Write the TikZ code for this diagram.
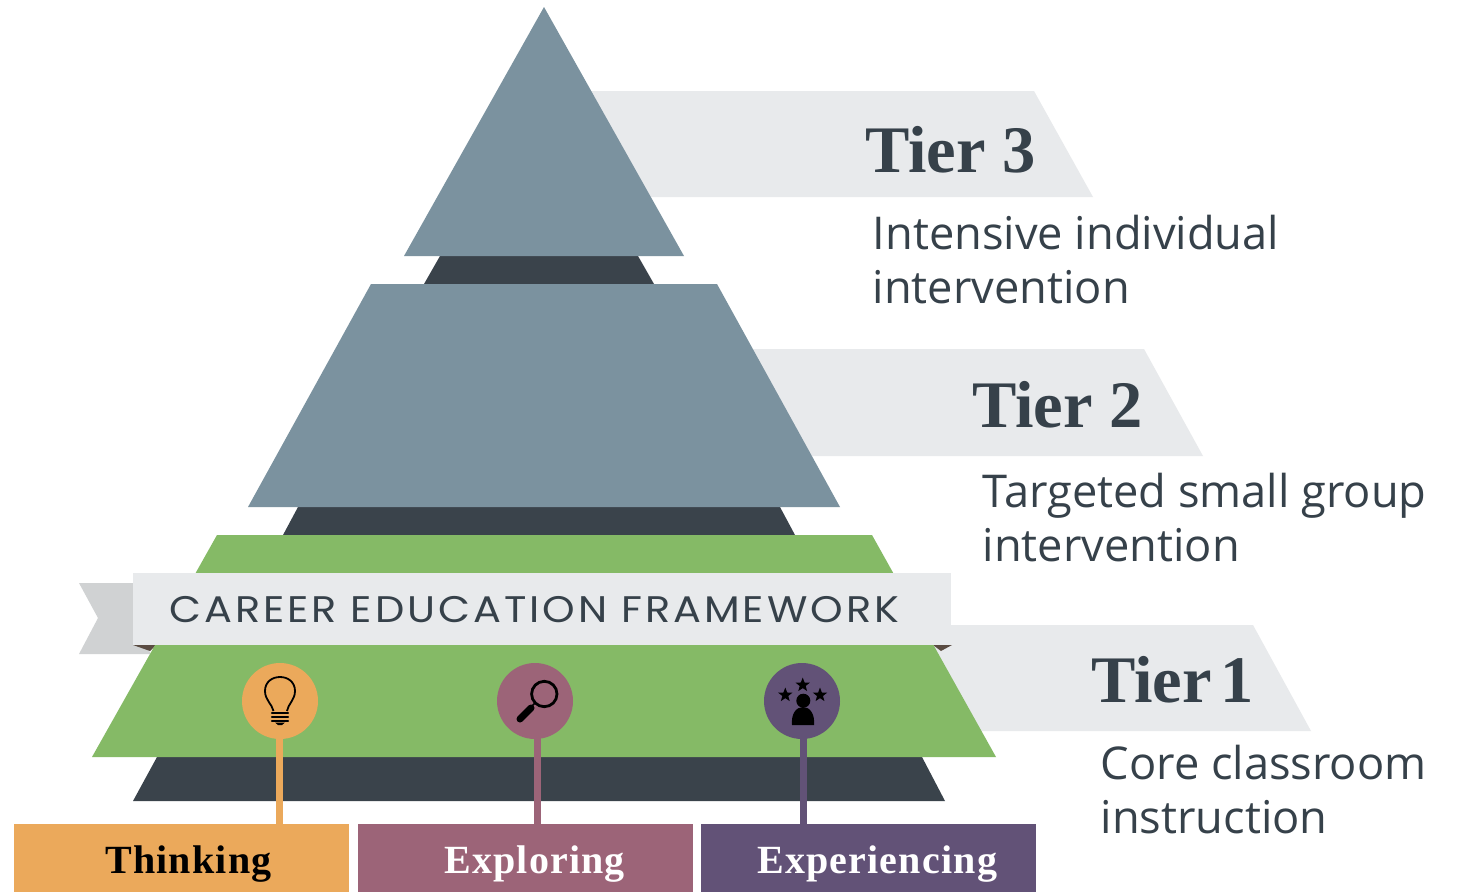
\documentclass[tikz,border=0pt]{standalone}
\usepackage{fontspec}
\usetikzlibrary{shapes.geometric}
\setmainfont{Liberation Serif}
\newfontfamily\bodyfont{Open Sans}
\newfontfamily\banfont[LetterSpace=8,FakeStretch=1.12]{Poppins}
\newfontfamily\catfont[LetterSpace=3]{Liberation Serif}
\definecolor{slate}{HTML}{7B929F}
\definecolor{darkbar}{HTML}{3A434B}
\definecolor{leaf}{HTML}{85BA66}
\definecolor{ribbon}{HTML}{E8EAEC}
\definecolor{tailgrey}{HTML}{D0D2D3}
\definecolor{fold}{HTML}{5A4C42}
\definecolor{ink}{HTML}{36414A}
\definecolor{cthink}{HTML}{EBA95B}
\definecolor{cexplore}{HTML}{9C6478}
\definecolor{cexper}{HTML}{625277}
\tikzset{
  tiertext/.style={anchor=base west,inner sep=0pt,text=ink,font=\fontsize{66.5}{66}\selectfont\bfseries},
  desctext/.style={anchor=base west,inner sep=0pt,text=ink,font=\bodyfont\fontsize{45.2}{54}\selectfont,align=left},
  catbox/.style={draw=none,inner sep=0pt,anchor=north west,minimum height=68pt,minimum width=335pt},
  cattext/.style={anchor=base west,inner sep=0pt,font=\catfont\fontsize{40}{40}\selectfont\bfseries},
  pin/.style={circle,inner sep=0pt,minimum size=76pt},
  stem/.style={line width=7pt},
  starmark/.style={star,star points=5,star point ratio=2.4,fill=black,inner sep=0pt,minimum size=15pt}
}
\begin{document}
\begin{tikzpicture}[x=1pt,y=-1pt]
\useasboundingbox (0,0) rectangle (1458,892);
\fill[white] (0,0) rectangle (1458,892);
% ribbons behind the pyramid
\fill[ribbon] (575,91) -- (1034,91) -- (1093,197) -- (630,197) -- cycle;
\fill[ribbon] (740,349) -- (1144,349) -- (1203,456) -- (795,456) -- cycle;
\fill[ribbon] (930,625) -- (1253,625) -- (1311,731) -- (930,731) -- cycle;
% dark layers
\fill[darkbar] (440,256) -- (638,256) -- (654,284) -- (424,284) -- cycle;
\fill[darkbar] (298,507) -- (780,507) -- (795,535) -- (283,535) -- cycle;
\fill[darkbar] (157,757) -- (922,757) -- (945,801) -- (133,801) -- cycle;
% tiers
\fill[slate] (544,7) -- (684,256) -- (404,256) -- cycle;
\fill[slate] (371,284) -- (717,284) -- (840,507) -- (248,507) -- cycle;
% banner tail and folds
\fill[tailgrey] (79,583) -- (140,583) -- (150,654) -- (79,654) -- (98,618) -- cycle;
\fill[fold] (133,645) -- (156,645) -- (150,651) -- cycle;
\fill[fold] (933,645) -- (952,645) -- (941,651) -- cycle;
\fill[leaf] (217,535) -- (872,535) -- (996,757) -- (92,757) -- cycle;
% banner
\node[fill=ribbon,inner sep=0pt,anchor=north west,minimum width=818pt,minimum height=72pt] (banner) at (133,573) {};
\node[anchor=base west,inner sep=0pt,text=ink,font=\banfont\fontsize{37}{37}\selectfont] (bantext) at (169,622.5) {CAREER EDUCATION FRAMEWORK};
% boxes
\node[catbox,fill=cthink] (bthink) at (14,824) {};
\node[catbox,fill=cexplore] (bexplore) at (358,824) {};
\node[catbox,fill=cexper] (bexper) at (701,824) {};
\node[cattext,text=black] (lthink) at (105,873) {Thinking};
\node[cattext,text=white] (lexplore) at (444,873) {Exploring};
\node[cattext,text=white] (lexper) at (757,873) {Experiencing};
% pins
\coordinate (sthink) at (279,720);
\coordinate (sexplore) at (537,720);
\coordinate (sexper) at (803,720);
\draw[stem,cthink] (sthink) -- (sthink |- bthink.north);
\draw[stem,cexplore] (sexplore) -- (sexplore |- bexplore.north);
\draw[stem,cexper] (sexper) -- (sexper |- bexper.north);
\node[pin,fill=cthink] (pthink) at (280,701) {};
\node[pin,fill=cexplore] (pexplore) at (535,701) {};
\node[pin,fill=cexper] (pexper) at (802,701) {};
% bulb
\draw[black,line width=1.8pt] (273.5,711) .. controls (272,704) and (265,700) .. (265,691) .. controls (265,682) and (272,677) .. (280,677) .. controls (288,677) and (295,682) .. (295,691) .. controls (295,700) and (288,704) .. (287,711);
\draw[black,line width=2.2pt,line cap=round] (272,713) -- (288,713);
\draw[black,line width=2.2pt,line cap=round] (272,717) -- (288,717);
\draw[black,line width=2.2pt,line cap=round] (272,721) -- (288,721);
\fill[black] (275,722.5) -- (285,722.5) -- (282,725) -- (278,725) -- cycle;
% magnifier
\draw[black,line width=2.8pt] (544.3,694) circle (12.7);
\draw[black,line width=1.5pt] (535,703) -- (531,707);
\draw[black,line width=7pt,line cap=round] (531,708) -- (520,719);
% person
\fill[black] (803.3,700.7) circle (7);
\fill[black] (792,725) .. controls (791,714) and (796,707) .. (803,707) .. controls (810,707) and (815,714) .. (814,725) -- cycle;
\node[starmark] (s1) at (802.7,685) {};
\node[starmark] (s2) at (785.3,695) {};
\node[starmark] (s3) at (820,695) {};
% tier texts
\node[tiertext] (t3) at (865,172) {Tier 3};
\node[tiertext] (t2) at (972,427) {Tier 2};
\node[tiertext] (t1) at (1091,702) {Tier\hspace{9pt}1};
\node[desctext] (d3) at (872.5,303) {Intensive individual\\intervention};
\node[desctext] (d2) at (982.5,561) {Targeted small group\\intervention};
\node[desctext] (d1) at (1100.5,833) {Core classroom\\instruction};
\end{tikzpicture}
\end{document}
